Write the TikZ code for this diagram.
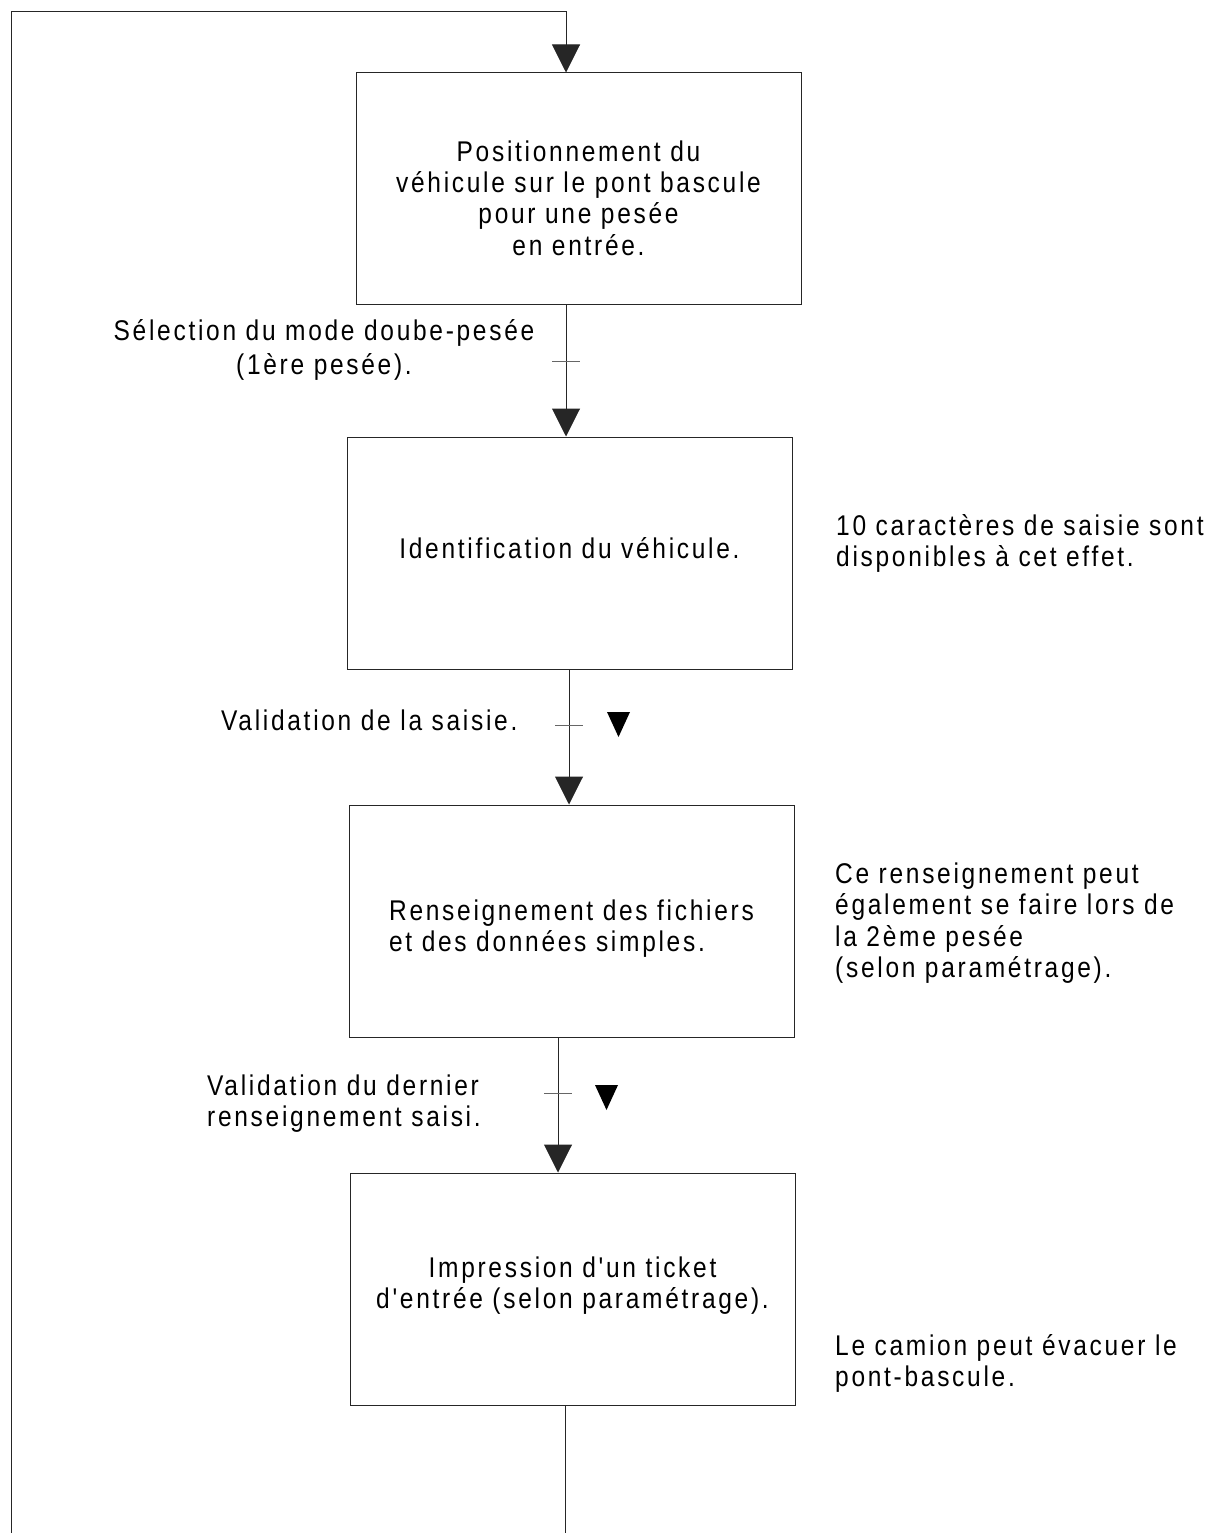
\documentclass[tikz,border=0pt]{standalone}
\usepackage{fontspec}
\setmainfont{Liberation Sans}[FakeStretch=0.86,LetterSpace=9.5,Ligatures=TeXOff]
\usetikzlibrary{arrows.meta}
\begin{document}
\begin{tikzpicture}[x=1pt,y=-1pt,
  box/.style={draw=black!85,line width=1pt,inner sep=0pt,minimum width=445pt,minimum height=231pt,
    font=\fontsize{28.5}{31}\selectfont},
  conn/.style={draw=black!85,line width=1pt},
  arr/.style={conn,-{Triangle[width=28pt,length=28pt]}},
  ticks/.style={draw=black!60,line width=1pt},
  lbl/.style={inner sep=0pt,font=\fontsize{28.5}{31.5}\selectfont},
  trimark/.style={fill=black}
]
\useasboundingbox (0,0) rectangle (1223,1533);

% boxes (text baseline of first line raised from the box centre)
\node[box] (b1) at (578.5,188.5)
  {\raisebox{26.5pt}[0pt][0pt]{\begin{tabular}[t]{@{}c@{}}Positionnement du\\ véhicule sur le pont bascule\\ pour une pesée\\ en entrée.\end{tabular}}};
\node[box,minimum height=232pt] (b2) at (569.5,553)
  {\raisebox{-5pt}[0pt][0pt]{Identification du véhicule.}};
\node[box,minimum height=232pt] (b3) at (571.5,921)
  {\raisebox{1pt}[0pt][0pt]{\begin{tabular}[t]{@{}l@{}}Renseignement des fichiers\\ et des données simples.\end{tabular}}};
\node[box,minimum height=232pt] (b4) at (572.5,1289)
  {\raisebox{12pt}[0pt][0pt]{\begin{tabular}[t]{@{}c@{}}Impression d'un ticket\\ d'entrée (selon paramétrage).\end{tabular}}};

% connector x positions
\coordinate (x0) at (566,0);
\coordinate (x1) at (566,0);
\coordinate (x2) at (569,0);
\coordinate (x3) at (558,0);
\coordinate (x4) at (565,0);

% loop back
\coordinate (loopbot) at (11,1533);
\coordinate (looptop) at (11,12);
\coordinate (outend) at (565,1533);
\draw[arr] (loopbot) -- (looptop) -| (b1.north -| x0);
\draw[conn] (b4.south -| x4) -- (outend);

% connectors with transition ticks
\draw[arr] (b1.south -| x1) -- (b2.north -| x1);
\draw[arr] (b2.south -| x2) -- (b3.north -| x2);
\draw[arr] (b3.south -| x3) -- (b4.north -| x3);

\coordinate (t1) at (566,361);
\coordinate (t2) at (569,725);
\coordinate (t3) at (558,1093);
\draw[ticks] ([xshift=-14pt]t1) -- ([xshift=14pt]t1);
\draw[ticks] ([xshift=-14pt]t2) -- ([xshift=14pt]t2);
\draw[ticks] ([xshift=-14pt]t3) -- ([xshift=14pt]t3);

% small loose triangles
\fill[trimark] (607,712) -- (630,712) -- (618.5,737) -- cycle;
\fill[trimark] (595,1085) -- (618,1085) -- (606.5,1110) -- cycle;

% left labels
\node[lbl,anchor=base,font=\fontsize{28.5}{34}\selectfont] (l1) at (324,340)
  {\begin{tabular}[t]{@{}c@{}}Sélection du mode doube-pesée\\ (1ère pesée).\end{tabular}};
\node[lbl,anchor=base west] (l2) at (221,730) {Validation de la saisie.};
\node[lbl,anchor=base west] (l3) at (207,1095)
  {\begin{tabular}[t]{@{}l@{}}Validation du dernier\\ renseignement saisi.\end{tabular}};

% right notes
\node[lbl,anchor=base west] (r1) at (836,535)
  {\begin{tabular}[t]{@{}l@{}}10 caractères de saisie sont\\ disponibles à cet effet.\end{tabular}};
\node[lbl,anchor=base west] (r2) at (835,883)
  {\begin{tabular}[t]{@{}l@{}}Ce renseignement peut\\ également se faire lors de\\ la 2ème pesée\\ (selon paramétrage).\end{tabular}};
\node[lbl,anchor=base west] (r3) at (835,1355)
  {\begin{tabular}[t]{@{}l@{}}Le camion peut évacuer le\\ pont-bascule.\end{tabular}};
\end{tikzpicture}
\end{document}
